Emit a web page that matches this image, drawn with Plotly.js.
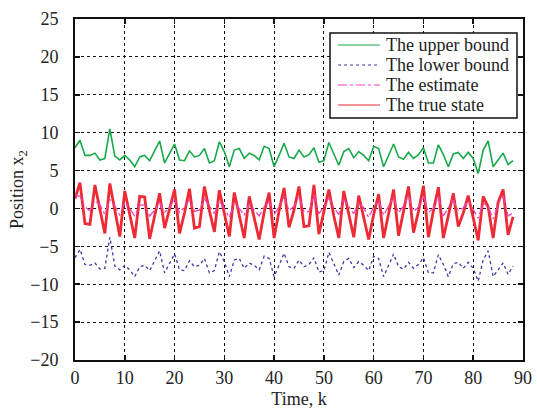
<!DOCTYPE html>
<html>
<head>
<meta charset="utf-8">
<script src="https://cdn.plot.ly/plotly-3.0.1.min.js"></script>
<style>html,body{margin:0;padding:0;background:#fff;}#chart{width:537px;height:417px;}</style>
</head>
<body>
<div id="chart"></div>
<script>
const timeK = Array.from({length: 89}, (_, i) => i);
const upperBound = [8.0,9.0,7.0,7.0,7.3,6.4,6.6,10.5,6.9,6.4,
  7.0,6.4,5.5,6.8,7.0,6.3,7.6,8.9,6.0,7.2,
  8.5,6.4,6.3,7.6,6.8,7.0,7.9,6.0,6.3,8.8,
  7.5,5.5,7.7,7.9,6.6,7.3,7.0,6.4,8.2,7.9,
  5.5,7.0,8.6,6.8,6.6,7.7,6.8,7.1,8.0,6.1,
  6.3,8.7,7.2,5.7,7.5,7.9,6.7,7.5,7.0,6.3,
  8.2,7.9,5.5,7.0,8.5,6.8,6.5,7.4,6.6,7.1,
  8.0,6.0,6.0,8.4,7.1,5.5,7.2,7.4,6.6,7.4,
  6.6,4.6,7.7,8.9,5.5,6.4,7.3,5.8,6.3];
const lowerBound = [-6.5,-5.4,-7.4,-7.5,-7.2,-8.0,-7.9,-3.8,-7.6,-8.1,
  -7.5,-8.1,-9.0,-7.7,-7.5,-8.2,-6.9,-5.6,-8.5,-7.3,
  -6.0,-8.1,-8.2,-6.9,-7.7,-7.5,-6.6,-8.5,-8.2,-5.7,
  -7.0,-9.0,-6.8,-6.6,-7.9,-7.2,-7.5,-8.1,-6.3,-6.6,
  -9.0,-7.5,-5.9,-7.7,-7.9,-6.8,-7.7,-7.4,-6.5,-8.4,
  -8.2,-5.8,-7.3,-8.8,-7.0,-6.6,-7.8,-7.0,-7.5,-8.2,
  -6.3,-6.6,-9.0,-7.5,-6.0,-7.7,-8.0,-7.1,-7.9,-7.4,
  -6.5,-8.5,-8.5,-6.1,-7.4,-9.0,-7.3,-7.1,-7.9,-7.1,
  -7.9,-9.6,-6.8,-5.6,-9.0,-8.1,-7.2,-8.7,-7.6];
const estimate = [1.8,1.6,0.2,-0.3,1.0,0.5,-0.8,1.2,0.3,-0.9,
  0.8,0.0,-1.0,0.4,0.5,-1.0,-0.2,0.8,-0.5,0.1,
  1.3,-0.6,0.2,1.2,-0.4,-0.2,1.3,0.3,-0.7,1.0,
  0.0,-1.2,0.7,0.0,-0.9,0.6,-0.2,-1.0,0.2,0.9,
  -0.8,0.2,1.5,-0.3,0.3,1.6,-0.5,-0.4,1.8,-0.7,
  0.2,1.4,0.1,-0.8,1.2,0.2,-0.7,0.8,0.1,-1.2,
  0.2,1.1,-0.9,0.3,1.5,-0.6,0.3,1.6,-0.4,0.2,
  1.7,-0.5,0.0,1.6,-1.0,0.1,1.1,-0.3,0.1,1.0,
  -0.2,-1.3,0.7,0.3,-1.4,0.6,1.6,-1.0,-0.6];
const trueState = [1.3,3.4,-2.0,-2.1,3.1,-0.3,-3.3,3.3,-0.4,-3.7,
  2.3,-0.9,-3.9,1.6,1.5,-4.0,-1.0,2.0,-2.6,-0.2,
  2.5,-3.3,-0.6,2.6,-2.6,-2.4,2.9,-0.3,-3.1,2.4,
  -0.8,-3.7,2.1,-1.0,-3.9,1.6,-1.2,-4.1,-0.5,2.1,
  -3.9,-0.3,2.7,-2.5,-0.2,2.9,-2.4,-2.3,3.1,-3.4,
  -0.4,2.5,-1.0,-3.9,2.3,-0.8,-3.8,1.7,-1.0,-4.1,
  -0.8,1.9,-3.9,-0.5,2.5,-3.6,-0.2,2.9,-3.2,-0.4,
  3.0,-3.8,-0.3,2.8,-3.9,-0.8,2.0,-2.4,-0.6,1.7,
  -1.2,-4.2,1.6,0.2,-3.9,0.8,2.5,-3.5,-1.1];
const seriesNames = ['The upper bound', 'The lower bound', 'The estimate', 'The true state'];

const serif = '"Liberation Serif", serif';
const colors = ['#18a84a', '#3a3aa8', '#ee44bb', '#ee2a35'];
const dashes = ['solid', 'dot', 'dashdot', 'solid'];
const traces = [
  {x: timeK, y: upperBound, name: seriesNames[0], mode: 'lines', showlegend: false,
   line: {color: colors[0], width: 1.6}},
  {x: timeK, y: lowerBound, name: seriesNames[1], mode: 'lines', showlegend: false,
   line: {color: colors[1], width: 1.3, dash: 'dot'}},
  {x: timeK, y: trueState, name: seriesNames[3], mode: 'lines', showlegend: false,
   line: {color: colors[3], width: 2.8}},
  {x: timeK, y: estimate, name: seriesNames[2], mode: 'lines', showlegend: false,
   line: {color: colors[2], width: 1.3, dash: 'dashdot'}}
];

// legend box drawn in paper coordinates (plot area 75..523 x 19..360 px)
const L = 75, R = 523, T = 19, B = 360;
const px = v => (v - L) / (R - L);
const py = v => (B - v) / (B - T);
const shapes = [{type: 'rect', xref: 'paper', yref: 'paper', layer: 'above',
  x0: px(330), x1: px(517), y0: py(118), y1: py(33),
  fillcolor: '#fff', line: {color: '#111', width: 1.5}}];
const annotations = [];
const rowY = [45, 65, 85, 105];
seriesNames.forEach((nm, i) => {
  shapes.push({type: 'line', xref: 'paper', yref: 'paper', layer: 'above',
    x0: px(338), x1: px(380), y0: py(rowY[i]), y1: py(rowY[i]),
    line: {color: colors[i], width: 1.2, dash: dashes[i]}});
  annotations.push({xref: 'paper', yref: 'paper', x: px(384), y: py(rowY[i]),
    xanchor: 'left', yanchor: 'middle', showarrow: false, text: nm,
    font: {family: serif, size: 18, color: '#222'}});
});

const axisCommon = {
  showline: true, mirror: 'ticks', linecolor: '#111', linewidth: 2,
  ticks: 'inside', ticklen: 5, tickwidth: 1.5, tickcolor: '#111',
  showgrid: true, gridcolor: '#111', gridwidth: 1, griddash: 'dot',
  zeroline: false, tickfont: {family: serif, size: 18, color: '#222'}
};
const layout = {
  width: 537, height: 417,
  margin: {l: 75, r: 14, t: 19, b: 57},
  paper_bgcolor: '#fff', plot_bgcolor: '#fff',
  showlegend: false,
  font: {family: serif},
  shapes: shapes, annotations: annotations,
  xaxis: Object.assign({}, axisCommon, {range: [0, 90], dtick: 10, tick0: 0, ticklabelstandoff: 0,
    title: {text: 'Time, k', font: {family: serif, size: 18, color: '#222'}, standoff: 6}}),
  yaxis: Object.assign({}, axisCommon, {range: [-20, 25], dtick: 5, tick0: 0, ticklabelstandoff: 11,
    title: {text: 'Position x<sub>2</sub>', font: {family: serif, size: 18, color: '#222'}, standoff: 2}})
};
Plotly.newPlot('chart', traces, layout, {displayModeBar: false, staticPlot: true});
</script>
</body>
</html>
